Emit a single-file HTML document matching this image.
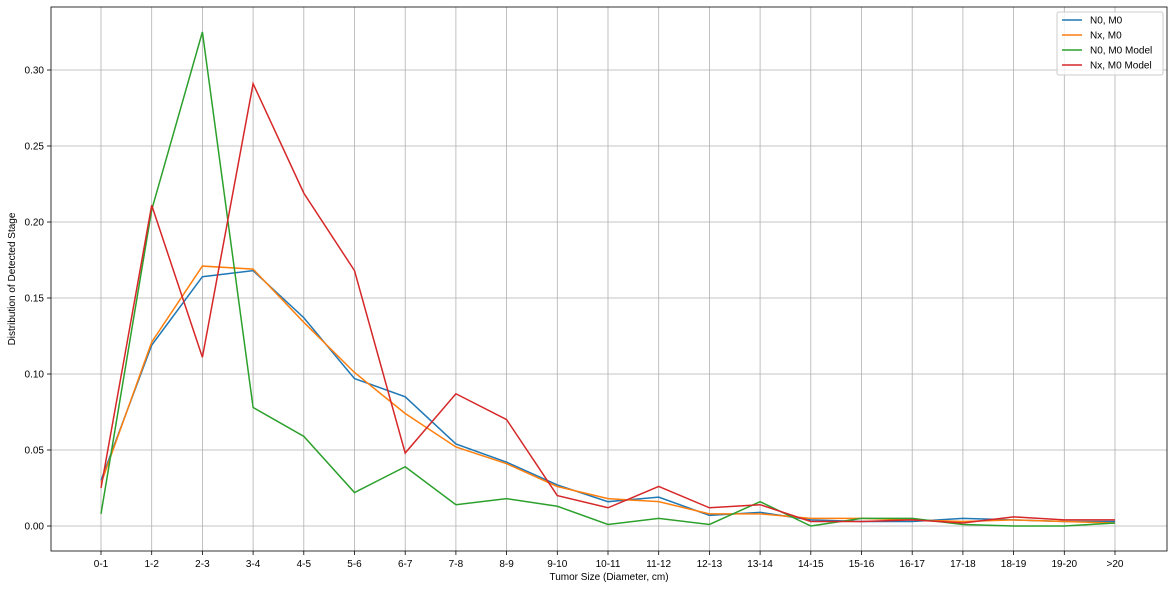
<!DOCTYPE html>
<html><head><meta charset="utf-8"><style>
body{margin:0;background:#fff;font-family:"Liberation Sans","DejaVu Sans",sans-serif}
svg text{font-family:"Liberation Sans","DejaVu Sans",sans-serif;font-size:10px;fill:#000}
</style></head><body>
<svg id="chart" width="1173" height="589" xmlns="http://www.w3.org/2000/svg">
<g id="grid"></g>
<g id="lines"></g>
<rect x="51" y="7" width="1116" height="544" fill="none" stroke="#000" stroke-width="0.8"/>
<g id="axes"></g>
<text x="609" y="580" text-anchor="middle">Tumor Size (Diameter, cm)</text>
<text transform="translate(15,279) rotate(-90)" text-anchor="middle">Distribution of Detected Stage</text>
<g id="legend"></g>
</svg>
<script>
const categories=["0-1","1-2","2-3","3-4","4-5","5-6","6-7","7-8","8-9","9-10","10-11","11-12","12-13","13-14","14-15","15-16","16-17","17-18","18-19","19-20",">20"];
const seriesNames=["N0, M0","Nx, M0","N0, M0 Model","Nx, M0 Model"];
const n0m0=[0.030,0.119,0.164,0.168,0.137,0.097,0.085,0.054,0.042,0.027,0.016,0.019,0.007,0.009,0.004,0.003,0.003,0.005,0.004,0.003,0.003];
const nxm0=[0.028,0.121,0.171,0.169,0.134,0.101,0.074,0.052,0.041,0.026,0.018,0.016,0.008,0.008,0.005,0.005,0.004,0.003,0.004,0.003,0.002];
const n0m0Model=[0.008,0.208,0.325,0.078,0.059,0.022,0.039,0.014,0.018,0.013,0.001,0.005,0.001,0.016,0.000,0.005,0.005,0.001,0.000,0.000,0.002];
const nxm0Model=[0.025,0.211,0.111,0.291,0.219,0.168,0.048,0.087,0.070,0.020,0.012,0.026,0.012,0.014,0.003,0.003,0.004,0.002,0.006,0.004,0.004];
const yTicks=[0,0.05,0.10,0.15,0.20,0.25,0.30];
const colors=["#1f77b4","#ff7f0e","#2ca02c","#d62728"];
const NS="http://www.w3.org/2000/svg";
const x=i=>101+i*(1115-101)/(categories.length-1);
const y=v=>526-v*1520;
function mk(t,a,p){const e=document.createElementNS(NS,t);for(const k in a)e.setAttribute(k,a[k]);p.appendChild(e);return e;}
const grid=document.getElementById('grid'),axes=document.getElementById('axes');
categories.forEach((c,i)=>{
 const g=mk('line',{x1:x(i),x2:x(i),y1:7,y2:551,stroke:'#b0b0b0','stroke-width':0.8},grid);
 
 
 const tk=mk('line',{x1:x(i),x2:x(i),y1:551,y2:555,stroke:'#000','stroke-width':0.8},axes);
 
 
 const t=mk('text',{x:x(i),y:567,'text-anchor':'middle'},axes);t.textContent=c;
 
 
});
yTicks.forEach(v=>{
 const g=mk('line',{x1:51,x2:1167,y1:y(v),y2:y(v),stroke:'#b0b0b0','stroke-width':0.8},grid);
 
 
 const tk=mk('line',{x1:47,x2:51,y1:y(v),y2:y(v),stroke:'#000','stroke-width':0.8},axes);
 
 
 const t=mk('text',{x:44,y:y(v)+3.5,'text-anchor':'end'},axes);t.textContent=v.toFixed(2);
 
 
});
const lines=document.getElementById('lines');
[n0m0,nxm0,n0m0Model,nxm0Model].forEach((s,k)=>{
 const p=mk('polyline',{points:s.map((v,i)=>x(i)+','+y(v)).join(' '),fill:'none',stroke:colors[k],'stroke-width':1.5},lines);
 
 
});
const lg=document.getElementById('legend');
const box=mk('rect',{x:1057,y:12,width:106,height:63,fill:'#fff','fill-opacity':0.8,stroke:'#ccc',rx:2},lg);


seriesNames.forEach((nm,k)=>{
 const yy=20+k*15;
 const l=mk('line',{x1:1062,x2:1082,y1:yy,y2:yy,stroke:colors[k],'stroke-width':1.5},lg);
 
 
 const t=mk('text',{x:1090,y:yy+3.5},lg);t.textContent=nm;
 
 
});
</script>
</body></html>
